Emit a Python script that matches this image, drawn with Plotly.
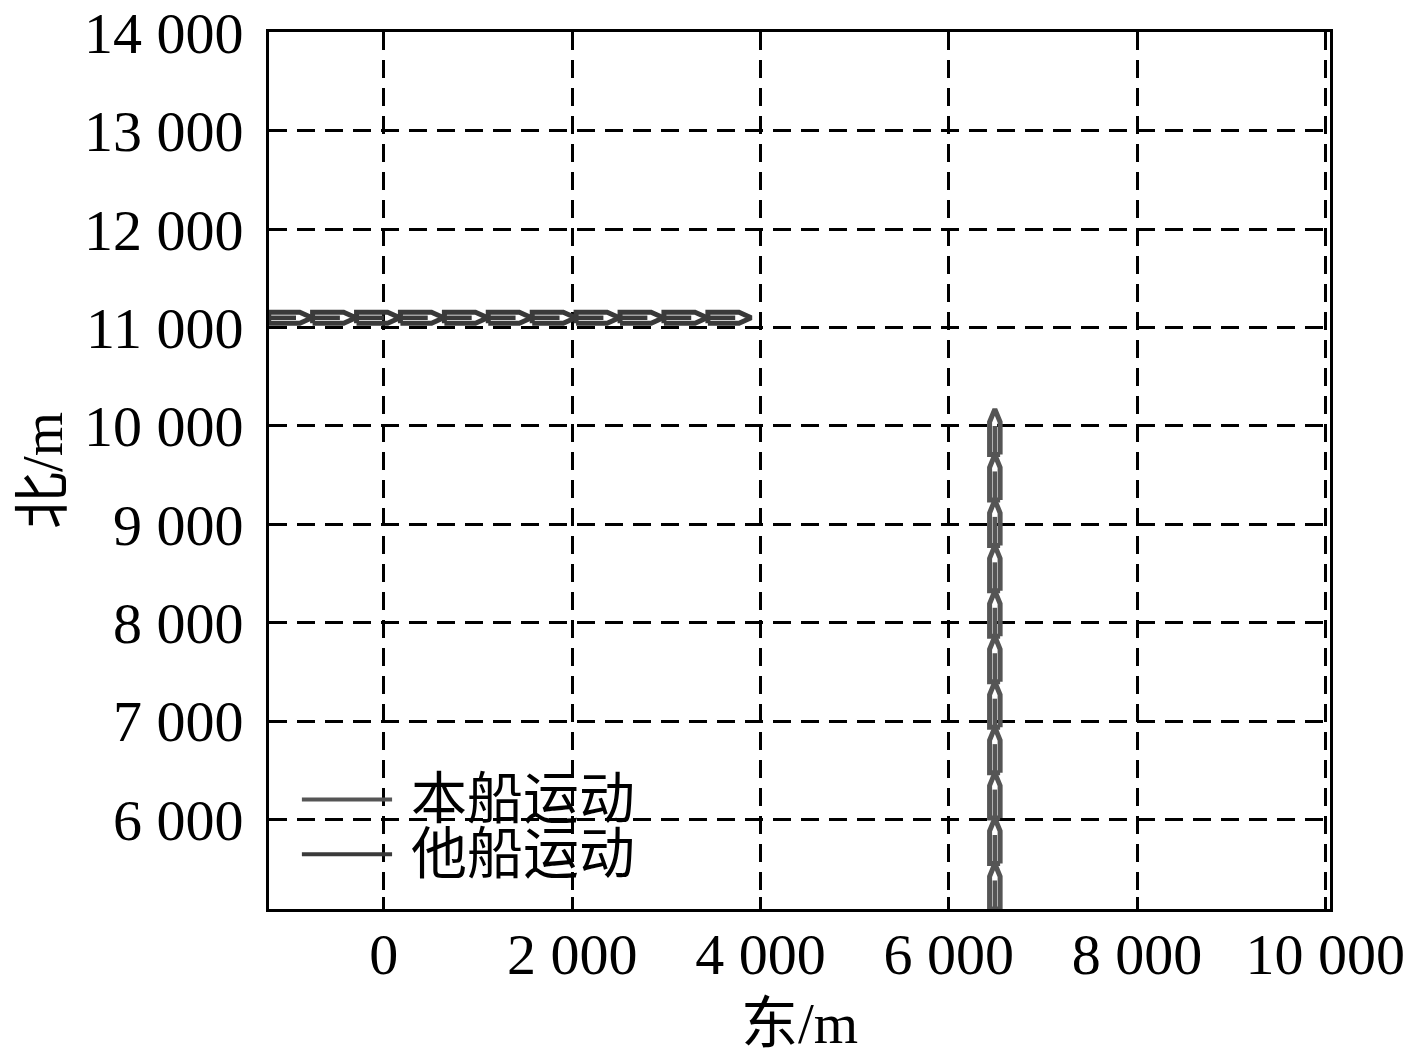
import plotly.graph_objects as go

# ship track positions (centre of each ship outline), metres
own_x = [6490, 6490, 6490, 6490, 6490, 6490, 6490, 6490, 6490, 6490, 6490]
own_y = [5320, 5782, 6244, 6706, 7168, 7630, 8092, 8554, 9016, 9478, 9940]
other_x = [-993, -527, -60, 406, 873, 1339, 1806, 2272, 2739, 3205, 3672]
other_y = [11100, 11100, 11100, 11100, 11100, 11100, 11100, 11100, 11100, 11100, 11100]

x_ticks = [0, 2000, 4000, 6000, 8000, 10000]
x_tick_labels = ['0', '2 000', '4 000', '6 000', '8 000', '10 000']
y_ticks = [6000, 7000, 8000, 9000, 10000, 11000, 12000, 13000, 14000]
y_tick_labels = ['6 000', '7 000', '8 000', '9 000', '10 000', '11 000', '12 000', '13 000', '14 000']

legend_names = ['本船运动', '他船运动']
legend_colors = ['#555555', '#3a3a3a']

SHIP_LEN = 460
SHIP_WID = 112
BOW_LEN = 130

FONT = 'Liberation Serif, Times New Roman, Noto Sans CJK SC, serif'


def ship_paths(xs, ys, hx, hy):
    # outline + centre line of each ship, heading along (hx, hy)
    outline_x, outline_y, centre_x, centre_y = [], [], [], []
    local = [(-SHIP_LEN / 2, SHIP_WID / 2), (SHIP_LEN / 2 - BOW_LEN, SHIP_WID / 2), (SHIP_LEN / 2, 0),
             (SHIP_LEN / 2 - BOW_LEN, -SHIP_WID / 2), (-SHIP_LEN / 2, -SHIP_WID / 2), (-SHIP_LEN / 2, SHIP_WID / 2)]
    for cx, cy in zip(xs, ys):
        for u, v in local:
            outline_x.append(cx + u * hx + v * hy)
            outline_y.append(cy + u * hy - v * hx)
        outline_x.append(None)
        outline_y.append(None)
        for u in (-SHIP_LEN / 2, SHIP_LEN / 2 - BOW_LEN - 40):
            centre_x.append(cx + u * hx)
            centre_y.append(cy + u * hy)
        centre_x.append(None)
        centre_y.append(None)
    return outline_x, outline_y, centre_x, centre_y


fig = go.Figure()

for (xs, ys, hx, hy), color, name in zip(
        [(own_x, own_y, 0, 1), (other_x, other_y, 1, 0)], legend_colors, legend_names):
    ox, oy, cx, cy = ship_paths(xs, ys, hx, hy)
    fig.add_trace(go.Scatter(x=ox, y=oy, mode='lines', line=dict(color=color, width=5),
                             name=name, showlegend=False, hoverinfo='skip'))
    fig.add_trace(go.Scatter(x=cx, y=cy, mode='lines', line=dict(color=color, width=4.5),
                             showlegend=False, hoverinfo='skip'))

# hand drawn legend (long line samples as in the original)
for i, (name, color) in enumerate(zip(legend_names, legend_colors)):
    ly = 0.125 - i * 0.0625
    fig.add_shape(type='line', xref='paper', yref='paper', x0=0.031, x1=0.116, y0=ly, y1=ly,
                  line=dict(color=color, width=4))
    fig.add_annotation(xref='paper', yref='paper', x=0.132, y=ly, text=name, showarrow=False,
                       xanchor='left', yanchor='middle', font=dict(size=56, color='black', family=FONT))

axis_common = dict(
    showline=True, linecolor='black', linewidth=3, mirror=True,
    ticks='inside', ticklen=12, tickwidth=3, tickcolor='black',
    showgrid=True, gridcolor='black', gridwidth=2.5, griddash='18px,10px',
    zeroline=False, tickfont=dict(size=58, color='black', family=FONT),
    automargin=False, ticklabeloverflow='allow',
)

fig.update_xaxes(
    range=[-1220, 10050], tickvals=x_ticks, ticktext=x_tick_labels,
    title=dict(text='东/m', font=dict(size=57, color='black', family=FONT), standoff=35),
    ticklabelstandoff=-8, **axis_common,
)
fig.update_yaxes(
    range=[5090, 14005], tickvals=y_ticks, ticktext=y_tick_labels,
    title=dict(text='北/m', font=dict(size=57, color='black', family=FONT), standoff=3),
    ticklabelstandoff=11, **axis_common,
)

fig.update_layout(
    width=1401, height=1047,
    margin=dict(l=261, r=79, t=24, b=146),
    plot_bgcolor='white', paper_bgcolor='white',
    showlegend=False,
)

fig.write_html('out.html')
